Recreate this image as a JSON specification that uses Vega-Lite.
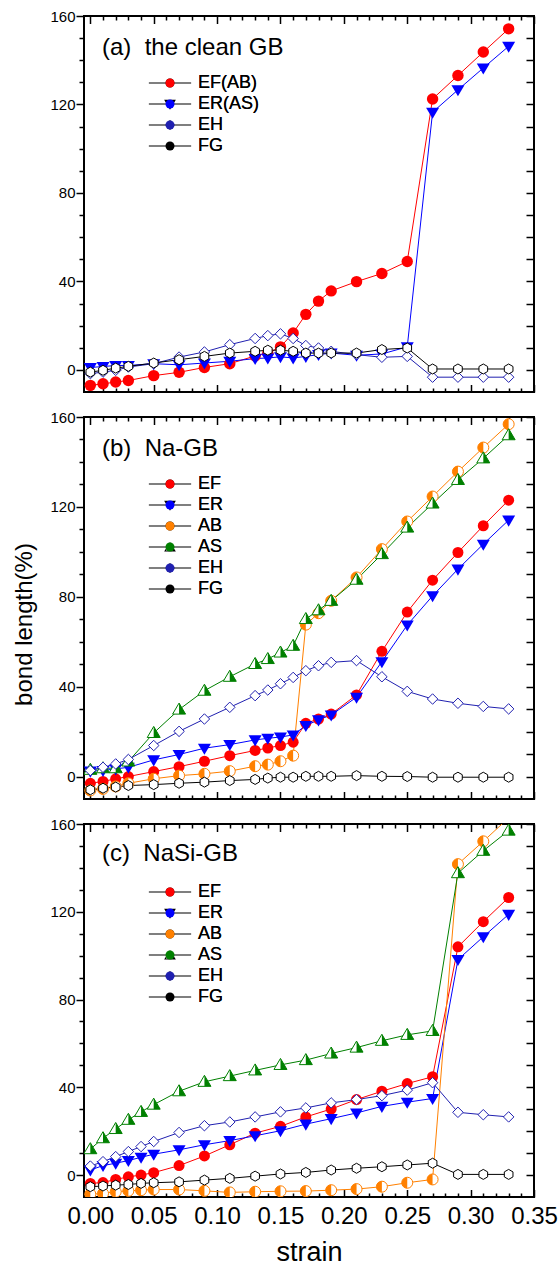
{
"$schema": "https://vega.github.io/schema/vega-lite/v6.json",
"autosize": {"type": "pad"},
"padding": {"left": 11, "top": 8, "right": 0, "bottom": 0},
"background": "white",
"bounds": "flush",
"spacing": 25,
"resolve": {"scale": {"color": "independent", "fill": "independent", "shape": "independent"}, "legend": {"color": "independent", "fill": "independent", "shape": "independent"}},
"config": {
  "view": {"stroke": "black", "strokeWidth": 2},
  "font": "Liberation Sans"
},
"datasets": {
"a": [
{"s":"EF(AB)","x":0,"y":-7.0},{"s":"EF(AB)","x":0.01,"y":-6.3},{"s":"EF(AB)","x":0.02,"y":-5.5},{"s":"EF(AB)","x":0.03,"y":-4.8},{"s":"EF(AB)","x":0.05,"y":-2.6},{"s":"EF(AB)","x":0.07,"y":-1.1},{"s":"EF(AB)","x":0.09,"y":1.1},{"s":"EF(AB)","x":0.11,"y":2.8},{"s":"EF(AB)","x":0.13,"y":6.3},{"s":"EF(AB)","x":0.14,"y":7.5},{"s":"EF(AB)","x":0.15,"y":10.4},{"s":"EF(AB)","x":0.16,"y":16.7},{"s":"EF(AB)","x":0.17,"y":25.1},{"s":"EF(AB)","x":0.18,"y":31.1},{"s":"EF(AB)","x":0.19,"y":35.7},{"s":"EF(AB)","x":0.21,"y":39.9},{"s":"EF(AB)","x":0.23,"y":43.6},{"s":"EF(AB)","x":0.25,"y":49.0},{"s":"EF(AB)","x":0.27,"y":122.5},{"s":"EF(AB)","x":0.29,"y":133.1},{"s":"EF(AB)","x":0.31,"y":143.7},{"s":"EF(AB)","x":0.33,"y":154.2},
{"s":"ER(AS)","x":0,"y":1.1},{"s":"ER(AS)","x":0.01,"y":1.5},{"s":"ER(AS)","x":0.02,"y":2.0},{"s":"ER(AS)","x":0.03,"y":2.0},{"s":"ER(AS)","x":0.05,"y":2.8},{"s":"ER(AS)","x":0.07,"y":2.3},{"s":"ER(AS)","x":0.09,"y":3.1},{"s":"ER(AS)","x":0.11,"y":3.9},{"s":"ER(AS)","x":0.13,"y":5.1},{"s":"ER(AS)","x":0.14,"y":5.4},{"s":"ER(AS)","x":0.15,"y":5.9},{"s":"ER(AS)","x":0.16,"y":5.4},{"s":"ER(AS)","x":0.17,"y":6.1},{"s":"ER(AS)","x":0.18,"y":6.9},{"s":"ER(AS)","x":0.19,"y":7.6},{"s":"ER(AS)","x":0.21,"y":6.6},{"s":"ER(AS)","x":0.23,"y":7.2},{"s":"ER(AS)","x":0.25,"y":10.4},{"s":"ER(AS)","x":0.27,"y":116.5},{"s":"ER(AS)","x":0.29,"y":126.6},{"s":"ER(AS)","x":0.31,"y":136.5},{"s":"ER(AS)","x":0.33,"y":146.3},
{"s":"EH","x":0,"y":-1.7},{"s":"EH","x":0.01,"y":-1.0},{"s":"EH","x":0.02,"y":-0.2},{"s":"EH","x":0.03,"y":1.3},{"s":"EH","x":0.05,"y":2.8},{"s":"EH","x":0.07,"y":5.8},{"s":"EH","x":0.09,"y":8.1},{"s":"EH","x":0.11,"y":11.4},{"s":"EH","x":0.13,"y":14.2},{"s":"EH","x":0.14,"y":15.5},{"s":"EH","x":0.15,"y":16.3},{"s":"EH","x":0.16,"y":14.2},{"s":"EH","x":0.17,"y":11.0},{"s":"EH","x":0.18,"y":9.9},{"s":"EH","x":0.19,"y":8.4},{"s":"EH","x":0.21,"y":6.9},{"s":"EH","x":0.23,"y":5.7},{"s":"EH","x":0.25,"y":6.1},{"s":"EH","x":0.27,"y":-3.3},{"s":"EH","x":0.29,"y":-3.3},{"s":"EH","x":0.31,"y":-3.3},{"s":"EH","x":0.33,"y":-3.3},
{"s":"FG","x":0,"y":-1.0},{"s":"FG","x":0.01,"y":-0.2},{"s":"FG","x":0.02,"y":0.8},{"s":"FG","x":0.03,"y":1.6},{"s":"FG","x":0.05,"y":3.1},{"s":"FG","x":0.07,"y":4.6},{"s":"FG","x":0.09,"y":6.1},{"s":"FG","x":0.11,"y":7.6},{"s":"FG","x":0.13,"y":8.4},{"s":"FG","x":0.14,"y":8.9},{"s":"FG","x":0.15,"y":8.9},{"s":"FG","x":0.16,"y":8.4},{"s":"FG","x":0.17,"y":7.6},{"s":"FG","x":0.18,"y":7.6},{"s":"FG","x":0.19,"y":7.6},{"s":"FG","x":0.21,"y":7.6},{"s":"FG","x":0.23,"y":9.2},{"s":"FG","x":0.25,"y":9.9},{"s":"FG","x":0.27,"y":0.4},{"s":"FG","x":0.29,"y":0.4},{"s":"FG","x":0.31,"y":0.4},{"s":"FG","x":0.33,"y":0.4}
],
"b": [
{"s":"EF","x":0,"y":-3.0},{"s":"EF","x":0.01,"y":-2.2},{"s":"EF","x":0.02,"y":-1.0},{"s":"EF","x":0.03,"y":0.0},{"s":"EF","x":0.05,"y":2.2},{"s":"EF","x":0.07,"y":4.4},{"s":"EF","x":0.09,"y":6.8},{"s":"EF","x":0.11,"y":9.3},{"s":"EF","x":0.13,"y":11.6},{"s":"EF","x":0.14,"y":12.7},{"s":"EF","x":0.15,"y":13.8},{"s":"EF","x":0.16,"y":15.3},{"s":"EF","x":0.17,"y":23.7},{"s":"EF","x":0.18,"y":25.6},{"s":"EF","x":0.19,"y":27.8},{"s":"EF","x":0.21,"y":36.3},{"s":"EF","x":0.23,"y":55.7},{"s":"EF","x":0.25,"y":73.2},{"s":"EF","x":0.27,"y":87.4},{"s":"EF","x":0.29,"y":99.7},{"s":"EF","x":0.31,"y":111.6},{"s":"EF","x":0.33,"y":123.0},
{"s":"ER","x":0,"y":2.4},{"s":"ER","x":0.01,"y":2.7},{"s":"ER","x":0.02,"y":3.4},{"s":"ER","x":0.03,"y":4.1},{"s":"ER","x":0.05,"y":7.4},{"s":"ER","x":0.07,"y":9.8},{"s":"ER","x":0.09,"y":12.6},{"s":"ER","x":0.11,"y":14.2},{"s":"ER","x":0.13,"y":16.3},{"s":"ER","x":0.14,"y":17.0},{"s":"ER","x":0.15,"y":17.6},{"s":"ER","x":0.16,"y":18.5},{"s":"ER","x":0.17,"y":22.7},{"s":"ER","x":0.18,"y":25.2},{"s":"ER","x":0.19,"y":27.4},{"s":"ER","x":0.21,"y":35.3},{"s":"ER","x":0.23,"y":51.1},{"s":"ER","x":0.25,"y":67.4},{"s":"ER","x":0.27,"y":80.4},{"s":"ER","x":0.29,"y":92.3},{"s":"ER","x":0.31,"y":103.4},{"s":"ER","x":0.33,"y":114.1},
{"s":"AB","x":0,"y":-6.2},{"s":"AB","x":0.01,"y":-5.5},{"s":"AB","x":0.02,"y":-4.4},{"s":"AB","x":0.03,"y":-3.0},{"s":"AB","x":0.05,"y":-1.0},{"s":"AB","x":0.07,"y":0.4},{"s":"AB","x":0.09,"y":1.2},{"s":"AB","x":0.11,"y":2.4},{"s":"AB","x":0.13,"y":4.6},{"s":"AB","x":0.14,"y":5.3},{"s":"AB","x":0.15,"y":6.8},{"s":"AB","x":0.16,"y":9.3},{"s":"AB","x":0.17,"y":67.6},{"s":"AB","x":0.18,"y":72.7},{"s":"AB","x":0.19,"y":78.2},{"s":"AB","x":0.21,"y":88.6},{"s":"AB","x":0.23,"y":101.2},{"s":"AB","x":0.25,"y":113.5},{"s":"AB","x":0.27,"y":124.6},{"s":"AB","x":0.29,"y":135.7},{"s":"AB","x":0.31,"y":146.4},{"s":"AB","x":0.33,"y":156.8},
{"s":"AS","x":0,"y":3.0},{"s":"AS","x":0.01,"y":3.7},{"s":"AS","x":0.02,"y":3.7},{"s":"AS","x":0.03,"y":6.7},{"s":"AS","x":0.05,"y":19.4},{"s":"AS","x":0.07,"y":29.8},{"s":"AS","x":0.09,"y":38.2},{"s":"AS","x":0.11,"y":44.4},{"s":"AS","x":0.13,"y":50.1},{"s":"AS","x":0.14,"y":52.3},{"s":"AS","x":0.15,"y":55.2},{"s":"AS","x":0.16,"y":58.2},{"s":"AS","x":0.17,"y":70.1},{"s":"AS","x":0.18,"y":74.0},{"s":"AS","x":0.19,"y":78.2},{"s":"AS","x":0.21,"y":87.6},{"s":"AS","x":0.23,"y":99.0},{"s":"AS","x":0.25,"y":110.8},{"s":"AS","x":0.27,"y":121.5},{"s":"AS","x":0.29,"y":132.0},{"s":"AS","x":0.31,"y":141.6},{"s":"AS","x":0.33,"y":151.9},
{"s":"EH","x":0,"y":2.7},{"s":"EH","x":0.01,"y":4.1},{"s":"EH","x":0.02,"y":5.6},{"s":"EH","x":0.03,"y":7.6},{"s":"EH","x":0.05,"y":13.8},{"s":"EH","x":0.07,"y":20.1},{"s":"EH","x":0.09,"y":25.6},{"s":"EH","x":0.11,"y":30.8},{"s":"EH","x":0.13,"y":36.0},{"s":"EH","x":0.14,"y":38.5},{"s":"EH","x":0.15,"y":41.3},{"s":"EH","x":0.16,"y":44.1},{"s":"EH","x":0.17,"y":47.1},{"s":"EH","x":0.18,"y":49.3},{"s":"EH","x":0.19,"y":50.8},{"s":"EH","x":0.21,"y":51.6},{"s":"EH","x":0.23,"y":44.4},{"s":"EH","x":0.25,"y":37.9},{"s":"EH","x":0.27,"y":34.5},{"s":"EH","x":0.29,"y":32.6},{"s":"EH","x":0.31,"y":31.2},{"s":"EH","x":0.33,"y":30.1},
{"s":"FG","x":0,"y":-5.9},{"s":"FG","x":0.01,"y":-5.2},{"s":"FG","x":0.02,"y":-4.7},{"s":"FG","x":0.03,"y":-4.0},{"s":"FG","x":0.05,"y":-3.6},{"s":"FG","x":0.07,"y":-3.0},{"s":"FG","x":0.09,"y":-2.5},{"s":"FG","x":0.11,"y":-1.8},{"s":"FG","x":0.13,"y":-1.3},{"s":"FG","x":0.14,"y":-0.7},{"s":"FG","x":0.15,"y":-0.3},{"s":"FG","x":0.16,"y":-0.3},{"s":"FG","x":0.17,"y":0.1},{"s":"FG","x":0.18,"y":0.1},{"s":"FG","x":0.19,"y":0.1},{"s":"FG","x":0.21,"y":0.4},{"s":"FG","x":0.23,"y":0.1},{"s":"FG","x":0.25,"y":0.0},{"s":"FG","x":0.27,"y":-0.3},{"s":"FG","x":0.29,"y":-0.3},{"s":"FG","x":0.31,"y":-0.3},{"s":"FG","x":0.33,"y":-0.3}
],
"c": [
{"s":"EF","x":0,"y":-3.8},{"s":"EF","x":0.01,"y":-3.4},{"s":"EF","x":0.02,"y":-2.0},{"s":"EF","x":0.03,"y":-0.8},{"s":"EF","x":0.04,"y":0.0},{"s":"EF","x":0.05,"y":1.1},{"s":"EF","x":0.07,"y":4.3},{"s":"EF","x":0.09,"y":8.7},{"s":"EF","x":0.11,"y":13.8},{"s":"EF","x":0.13,"y":19.1},{"s":"EF","x":0.15,"y":22.2},{"s":"EF","x":0.17,"y":26.5},{"s":"EF","x":0.19,"y":30.1},{"s":"EF","x":0.21,"y":34.4},{"s":"EF","x":0.23,"y":38.2},{"s":"EF","x":0.25,"y":41.7},{"s":"EF","x":0.27,"y":44.8},{"s":"EF","x":0.29,"y":104.0},{"s":"EF","x":0.31,"y":115.5},{"s":"EF","x":0.33,"y":126.5},
{"s":"ER","x":0,"y":2.3},{"s":"ER","x":0.01,"y":4.3},{"s":"ER","x":0.02,"y":5.4},{"s":"ER","x":0.03,"y":6.6},{"s":"ER","x":0.04,"y":8.1},{"s":"ER","x":0.05,"y":9.5},{"s":"ER","x":0.07,"y":11.5},{"s":"ER","x":0.09,"y":13.8},{"s":"ER","x":0.11,"y":15.7},{"s":"ER","x":0.13,"y":17.9},{"s":"ER","x":0.15,"y":20.2},{"s":"ER","x":0.17,"y":23.2},{"s":"ER","x":0.19,"y":25.7},{"s":"ER","x":0.21,"y":28.3},{"s":"ER","x":0.23,"y":31.3},{"s":"ER","x":0.25,"y":33.2},{"s":"ER","x":0.27,"y":34.9},{"s":"ER","x":0.29,"y":98.2},{"s":"ER","x":0.31,"y":108.6},{"s":"ER","x":0.33,"y":118.8},
{"s":"AB","x":0,"y":-8.7},{"s":"AB","x":0.01,"y":-8.4},{"s":"AB","x":0.02,"y":-7.6},{"s":"AB","x":0.03,"y":-7.2},{"s":"AB","x":0.04,"y":-6.9},{"s":"AB","x":0.05,"y":-6.6},{"s":"AB","x":0.07,"y":-6.6},{"s":"AB","x":0.09,"y":-7.2},{"s":"AB","x":0.11,"y":-7.9},{"s":"AB","x":0.13,"y":-7.6},{"s":"AB","x":0.15,"y":-7.4},{"s":"AB","x":0.17,"y":-7.3},{"s":"AB","x":0.19,"y":-6.9},{"s":"AB","x":0.21,"y":-6.4},{"s":"AB","x":0.23,"y":-5.3},{"s":"AB","x":0.25,"y":-3.5},{"s":"AB","x":0.27,"y":-2.0},{"s":"AB","x":0.29,"y":141.7},{"s":"AB","x":0.31,"y":152.1},{"s":"AB","x":0.33,"y":162.8},
{"s":"AS","x":0,"y":11.8},{"s":"AS","x":0.01,"y":16.8},{"s":"AS","x":0.02,"y":21.0},{"s":"AS","x":0.03,"y":25.2},{"s":"AS","x":0.04,"y":28.8},{"s":"AS","x":0.05,"y":32.1},{"s":"AS","x":0.07,"y":38.2},{"s":"AS","x":0.09,"y":42.5},{"s":"AS","x":0.11,"y":45.1},{"s":"AS","x":0.13,"y":47.7},{"s":"AS","x":0.15,"y":50.2},{"s":"AS","x":0.17,"y":52.4},{"s":"AS","x":0.19,"y":55.4},{"s":"AS","x":0.21,"y":58.1},{"s":"AS","x":0.23,"y":61.2},{"s":"AS","x":0.25,"y":63.9},{"s":"AS","x":0.27,"y":65.7},{"s":"AS","x":0.29,"y":137.6},{"s":"AS","x":0.31,"y":147.8},{"s":"AS","x":0.33,"y":157.0},
{"s":"EH","x":0,"y":4.1},{"s":"EH","x":0.01,"y":6.1},{"s":"EH","x":0.02,"y":8.4},{"s":"EH","x":0.03,"y":10.7},{"s":"EH","x":0.04,"y":13.0},{"s":"EH","x":0.05,"y":15.3},{"s":"EH","x":0.07,"y":19.4},{"s":"EH","x":0.09,"y":22.5},{"s":"EH","x":0.11,"y":24.2},{"s":"EH","x":0.13,"y":26.5},{"s":"EH","x":0.15,"y":28.8},{"s":"EH","x":0.17,"y":30.6},{"s":"EH","x":0.19,"y":32.9},{"s":"EH","x":0.21,"y":34.4},{"s":"EH","x":0.23,"y":36.2},{"s":"EH","x":0.25,"y":38.7},{"s":"EH","x":0.27,"y":42.1},{"s":"EH","x":0.29,"y":28.6},{"s":"EH","x":0.31,"y":27.5},{"s":"EH","x":0.33,"y":26.5},
{"s":"FG","x":0,"y":-5.3},{"s":"FG","x":0.01,"y":-5.0},{"s":"FG","x":0.02,"y":-4.6},{"s":"FG","x":0.03,"y":-4.3},{"s":"FG","x":0.04,"y":-3.8},{"s":"FG","x":0.05,"y":-3.5},{"s":"FG","x":0.07,"y":-3.1},{"s":"FG","x":0.09,"y":-2.3},{"s":"FG","x":0.11,"y":-1.5},{"s":"FG","x":0.13,"y":-0.5},{"s":"FG","x":0.15,"y":0.5},{"s":"FG","x":0.17,"y":1.2},{"s":"FG","x":0.19,"y":2.3},{"s":"FG","x":0.21,"y":3.1},{"s":"FG","x":0.23,"y":3.8},{"s":"FG","x":0.25,"y":4.6},{"s":"FG","x":0.27,"y":5.4},{"s":"FG","x":0.29,"y":0.3},{"s":"FG","x":0.31,"y":0.3},{"s":"FG","x":0.33,"y":0.3}
]
},
"vconcat": [
{
  "width": 450, "height": 376,
  "data": {"name": "a"},
  "title": {"text": "(a)\u00a0 the clean GB", "anchor": "start", "frame": "group", "orient": "top", "offset": 0, "dx": 18, "dy": 70, "baseline": "alphabetic", "fontSize": 24, "font": "Liberation Sans", "fontWeight": "normal", "color": "black"},
  "resolve": {"axis": {"x": "independent", "y": "independent"}},
  "layer": [
    {"mark": {"type": "line", "strokeWidth": 1, "clip": true},
     "encoding": {
       "x": {"field": "x", "type": "quantitative", "scale": {"domain": [-0.005, 0.35], "nice": false, "zero": false},
             "axis": {"orient": "bottom", "values": [0,0.01,0.02,0.03,0.04,0.05,0.06,0.07,0.08,0.09,0.1,0.11,0.12,0.13,0.14,0.15,0.16,0.17,0.18,0.19,0.2,0.21,0.22,0.23,0.24,0.25,0.26,0.27,0.28,0.29,0.3,0.31,0.32,0.33,0.34,0.35], "labels": false, "tickSize": {"condition": {"test": "abs(round(datum.value*100)) % 5 === 0", "value": -7.5}, "value": -4}, "tickWidth": 1.5, "tickColor": "black", "domain": false, "grid": false, "title": null}},
       "y": {"field": "y", "type": "quantitative", "scale": {"domain": [-10, 160], "nice": false, "zero": false},
             "axis": {"orient": "left", "values": [0,10,20,30,40,50,60,70,80,90,100,110,120,130,140,150,160], "labelExpr": "datum.value % 40 === 0 ? datum.label : ''", "tickSize": {"condition": {"test": "datum.value % 40 === 0", "value": 8}, "value": 5}, "tickWidth": 1.5, "tickColor": "black", "labelFontSize": 15, "labelFont": "Liberation Sans", "labelColor": "black", "labelPadding": 1, "labelOverlap": false, "labelFlush": false, "domain": false, "grid": false, "title": null}},
       "color": {"field": "s", "type": "nominal", "scale": {"domain": ["EF(AB)", "ER(AS)", "EH", "FG"], "range": ["#ff0000", "#0000ff", "#2020b0", "#000000"]}, "legend": null}
     }},
    {"mark": {"type": "point", "filled": true, "opacity": 0, "strokeWidth": 0},
     "encoding": {
       "x": {"field": "x", "type": "quantitative", "axis": {"orient": "top", "values": [0,0.01,0.02,0.03,0.04,0.05,0.06,0.07,0.08,0.09,0.1,0.11,0.12,0.13,0.14,0.15,0.16,0.17,0.18,0.19,0.2,0.21,0.22,0.23,0.24,0.25,0.26,0.27,0.28,0.29,0.3,0.31,0.32,0.33,0.34,0.35], "labels": false, "tickSize": {"condition": {"test": "abs(round(datum.value*100)) % 5 === 0", "value": -7.5}, "value": -4}, "tickWidth": 1.5, "tickColor": "black", "domain": false, "grid": false, "title": null}},
       "y": {"field": "y", "type": "quantitative", "axis": {"orient": "right", "values": [0,10,20,30,40,50,60,70,80,90,100,110,120,130,140,150,160], "labels": false, "tickSize": -8, "tickWidth": 1.5, "tickColor": "black", "domain": false, "grid": false, "title": null}},
       "shape": {"field": "s", "type": "nominal", "sort": ["EF(AB)", "ER(AS)", "EH", "FG"], "scale": {"range": [
         "M-4.7,-0.12L-0.99,-0.12L-0.99,0.12L-4.7,0.12Z M0.99,-0.12L4.7,-0.12L4.7,0.12L0.99,0.12Z M1,0A1,1 0 1,1 -1,0A1,1 0 1,1 1,0Z",
         "M-4.7,-0.12L-0.7,-0.12L-0.7,0.12L-4.7,0.12Z M0.7,-0.12L4.7,-0.12L4.7,0.12L0.7,0.12Z M-1.3,-0.95L1.3,-0.95L0,1.25Z",
         "M-4.7,-0.12L-1.0,-0.12L-1.0,0.12L-4.7,0.12Z M1.0,-0.12L4.7,-0.12L4.7,0.12L1.0,0.12Z M0,-1.1L1.1,0L0,1.1L-1.1,0L0,-1.1L0,-0.79L-0.79,0L0,0.79L0.79,0L0,-0.79Z",
         "M-4.7,-0.12L-0.78,-0.12L-0.78,0.12L-4.7,0.12Z M0.78,-0.12L4.7,-0.12L4.7,0.12L0.78,0.12Z M0,-0.9L0.78,-0.45L0.78,0.45L0,0.9L-0.78,0.45L-0.78,-0.45L0,-0.9L0,-0.65L-0.56,-0.33L-0.56,0.33L0,0.65L0.56,0.33L0.56,-0.33L0,-0.65Z"]},
         "legend": {"orient": "none", "legendX": 77, "legendY": 58, "title": "", "symbolSize": 81, "symbolStrokeWidth": 0, "symbolStrokeColor": "transparent", "symbolOpacity": 1, "labelFontSize": 18, "labelFont": "Liberation Sans", "labelColor": "black", "labelOffset": 19, "rowPadding": 3, "padding": 0, "labelLimit": 300}},
       "fill": {"field": "s", "type": "nominal", "sort": ["EF(AB)", "ER(AS)", "EH", "FG"], "scale": {"range": ["#ff0000", "#0000ff", "#2020b0", "#000000"]},
         "legend": {"orient": "none", "legendX": 77, "legendY": 58, "title": "", "symbolSize": 81, "symbolStrokeWidth": 0, "symbolStrokeColor": "transparent", "symbolOpacity": 1, "labelFontSize": 18, "labelFont": "Liberation Sans", "labelColor": "black", "labelOffset": 19, "rowPadding": 3, "padding": 0, "labelLimit": 300}}
     }},
    {"transform": [{"filter": "datum.s === 'EF(AB)'"}],
     "mark": {"type": "point", "shape": "circle", "size": 130, "filled": true, "fill": "#ff0000", "strokeWidth": 0, "opacity": 1, "clip": true},
     "encoding": {"x": {"field": "x", "type": "quantitative", "axis": null}, "y": {"field": "y", "type": "quantitative", "axis": null}}},
    {"transform": [{"filter": "datum.s === 'ER(AS)'"}],
     "mark": {"type": "point", "shape": "M-1,-0.7L1,-0.7L0,1Z", "size": 169, "filled": true, "fill": "#0000ff", "strokeWidth": 0, "opacity": 1, "clip": true},
     "encoding": {"x": {"field": "x", "type": "quantitative", "axis": null}, "y": {"field": "y", "type": "quantitative", "axis": null}}},
    {"transform": [{"filter": "datum.s === 'EH'"}],
     "mark": {"type": "point", "shape": "M0,-1L1,0L0,1L-1,0Z", "size": 110, "filled": true, "fill": "white", "stroke": "#2020b0", "strokeWidth": 1, "opacity": 1, "clip": true},
     "encoding": {"x": {"field": "x", "type": "quantitative", "axis": null}, "y": {"field": "y", "type": "quantitative", "axis": null}}},
    {"transform": [{"filter": "datum.s === 'FG'"}],
     "mark": {"type": "point", "shape": "M0,-1L0.866,-0.5L0.866,0.5L0,1L-0.866,0.5L-0.866,-0.5Z", "size": 100, "filled": true, "fill": "white", "stroke": "#000000", "strokeWidth": 1, "opacity": 1, "clip": true},
     "encoding": {"x": {"field": "x", "type": "quantitative", "axis": null}, "y": {"field": "y", "type": "quantitative", "axis": null}}}
  ]
},
{
  "width": 450, "height": 382,
  "data": {"name": "b"},
  "title": {"text": "(b)\u00a0 Na-GB", "anchor": "start", "frame": "group", "orient": "top", "offset": 0, "dx": 18, "dy": 70, "baseline": "alphabetic", "fontSize": 24, "font": "Liberation Sans", "fontWeight": "normal", "color": "black"},
  "resolve": {"axis": {"x": "independent", "y": "independent"}},
  "layer": [
    {"mark": {"type": "line", "strokeWidth": 1, "clip": true},
     "encoding": {
       "x": {"field": "x", "type": "quantitative", "scale": {"domain": [-0.005, 0.35], "nice": false, "zero": false},
             "axis": {"orient": "bottom", "values": [0,0.01,0.02,0.03,0.04,0.05,0.06,0.07,0.08,0.09,0.1,0.11,0.12,0.13,0.14,0.15,0.16,0.17,0.18,0.19,0.2,0.21,0.22,0.23,0.24,0.25,0.26,0.27,0.28,0.29,0.3,0.31,0.32,0.33,0.34,0.35], "labels": false, "tickSize": {"condition": {"test": "abs(round(datum.value*100)) % 5 === 0", "value": -7.5}, "value": -4}, "tickWidth": 1.5, "tickColor": "black", "domain": false, "grid": false, "title": null}},
       "y": {"field": "y", "type": "quantitative", "scale": {"domain": [-10, 160], "nice": false, "zero": false},
             "axis": {"orient": "left", "values": [0,10,20,30,40,50,60,70,80,90,100,110,120,130,140,150,160], "labelExpr": "datum.value % 40 === 0 ? datum.label : ''", "tickSize": {"condition": {"test": "datum.value % 40 === 0", "value": 8}, "value": 5}, "tickWidth": 1.5, "tickColor": "black", "labelFontSize": 15, "labelFont": "Liberation Sans", "labelColor": "black", "labelPadding": 1, "labelOverlap": false, "labelFlush": false, "domain": false, "grid": false,
                      "title": "bond length(%)", "titleFontSize": 24, "titleFont": "Liberation Sans", "titleFontWeight": "normal", "titleColor": "black", "titleX": -60, "titleY": 207, "titleAngle": -90, "titleAlign": "center", "titleBaseline": "middle"}},
       "color": {"field": "s", "type": "nominal", "scale": {"domain": ["EF", "ER", "AB", "AS", "EH", "FG"], "range": ["#ff0000", "#0000ff", "#ff8000", "#008000", "#2020b0", "#000000"]}, "legend": null}
     }},
    {"mark": {"type": "point", "filled": true, "opacity": 0, "strokeWidth": 0},
     "encoding": {
       "x": {"field": "x", "type": "quantitative", "axis": {"orient": "top", "values": [0,0.01,0.02,0.03,0.04,0.05,0.06,0.07,0.08,0.09,0.1,0.11,0.12,0.13,0.14,0.15,0.16,0.17,0.18,0.19,0.2,0.21,0.22,0.23,0.24,0.25,0.26,0.27,0.28,0.29,0.3,0.31,0.32,0.33,0.34,0.35], "labels": false, "tickSize": {"condition": {"test": "abs(round(datum.value*100)) % 5 === 0", "value": -7.5}, "value": -4}, "tickWidth": 1.5, "tickColor": "black", "domain": false, "grid": false, "title": null}},
       "y": {"field": "y", "type": "quantitative", "axis": {"orient": "right", "values": [0,10,20,30,40,50,60,70,80,90,100,110,120,130,140,150,160], "labels": false, "tickSize": -8, "tickWidth": 1.5, "tickColor": "black", "domain": false, "grid": false, "title": null}},
       "shape": {"field": "s", "type": "nominal", "sort": ["EF", "ER", "AB", "AS", "EH", "FG"], "scale": {"range": [
         "M-4.7,-0.12L-0.99,-0.12L-0.99,0.12L-4.7,0.12Z M0.99,-0.12L4.7,-0.12L4.7,0.12L0.99,0.12Z M1,0A1,1 0 1,1 -1,0A1,1 0 1,1 1,0Z",
         "M-4.7,-0.12L-0.7,-0.12L-0.7,0.12L-4.7,0.12Z M0.7,-0.12L4.7,-0.12L4.7,0.12L0.7,0.12Z M-1.3,-0.95L1.3,-0.95L0,1.25Z",
         "M-4.7,-0.12L-0.99,-0.12L-0.99,0.12L-4.7,0.12Z M0.99,-0.12L4.7,-0.12L4.7,0.12L0.99,0.12Z M1,0A1,1 0 1,1 -1,0A1,1 0 1,1 1,0L0.78,0A0.78,0.78 0 1,0 -0.78,0A0.78,0.78 0 1,0 0.78,0Z M0,0.78A0.78,0.78 0 0,1 0,-0.78Z",
         "M-4.7,-0.12L-0.68,-0.12L-0.68,0.12L-4.7,0.12Z M0.68,-0.12L4.7,-0.12L4.7,0.12L0.68,0.12Z M0,-1.1L1.3,1L-1.3,1L0,-1.1L0,-0.68L-0.9,0.78L0.9,0.78L0,-0.68Z M0,-0.68L0.9,0.78L0,0.78Z",
         "M-4.7,-0.12L-1.0,-0.12L-1.0,0.12L-4.7,0.12Z M1.0,-0.12L4.7,-0.12L4.7,0.12L1.0,0.12Z M0,-1.1L1.1,0L0,1.1L-1.1,0L0,-1.1L0,-0.79L-0.79,0L0,0.79L0.79,0L0,-0.79Z",
         "M-4.7,-0.12L-0.78,-0.12L-0.78,0.12L-4.7,0.12Z M0.78,-0.12L4.7,-0.12L4.7,0.12L0.78,0.12Z M0,-0.9L0.78,-0.45L0.78,0.45L0,0.9L-0.78,0.45L-0.78,-0.45L0,-0.9L0,-0.65L-0.56,-0.33L-0.56,0.33L0,0.65L0.56,0.33L0.56,-0.33L0,-0.65Z"]},
         "legend": {"orient": "none", "legendX": 77, "legendY": 58, "title": "", "symbolSize": 81, "symbolStrokeWidth": 0, "symbolStrokeColor": "transparent", "symbolOpacity": 1, "labelFontSize": 18, "labelFont": "Liberation Sans", "labelColor": "black", "labelOffset": 19, "rowPadding": 3, "padding": 0, "labelLimit": 300}},
       "fill": {"field": "s", "type": "nominal", "sort": ["EF", "ER", "AB", "AS", "EH", "FG"], "scale": {"range": ["#ff0000", "#0000ff", "#ff8000", "#008000", "#2020b0", "#000000"]},
         "legend": {"orient": "none", "legendX": 77, "legendY": 58, "title": "", "symbolSize": 81, "symbolStrokeWidth": 0, "symbolStrokeColor": "transparent", "symbolOpacity": 1, "labelFontSize": 18, "labelFont": "Liberation Sans", "labelColor": "black", "labelOffset": 19, "rowPadding": 3, "padding": 0, "labelLimit": 300}}
     }},
    {"transform": [{"filter": "datum.s === 'EF'"}],
     "mark": {"type": "point", "shape": "circle", "size": 121, "filled": true, "fill": "#ff0000", "strokeWidth": 0, "opacity": 1, "clip": true},
     "encoding": {"x": {"field": "x", "type": "quantitative", "axis": null}, "y": {"field": "y", "type": "quantitative", "axis": null}}},
    {"transform": [{"filter": "datum.s === 'ER'"}],
     "mark": {"type": "point", "shape": "M-1,-0.7L1,-0.7L0,1Z", "size": 169, "filled": true, "fill": "#0000ff", "strokeWidth": 0, "opacity": 1, "clip": true},
     "encoding": {"x": {"field": "x", "type": "quantitative", "axis": null}, "y": {"field": "y", "type": "quantitative", "axis": null}}},
    {"transform": [{"filter": "datum.s === 'AB'"}],
     "mark": {"type": "point", "shape": "circle", "size": 121, "filled": true, "fill": "white", "stroke": "#ff8000", "strokeWidth": 1, "opacity": 1, "clip": true},
     "encoding": {"x": {"field": "x", "type": "quantitative", "axis": null}, "y": {"field": "y", "type": "quantitative", "axis": null}}},
    {"transform": [{"filter": "datum.s === 'AB'"}],
     "mark": {"type": "point", "shape": "M0,1A1,1 0 0,1 0,-1Z", "size": 121, "filled": true, "fill": "#ff8000", "strokeWidth": 0, "opacity": 1, "clip": true},
     "encoding": {"x": {"field": "x", "type": "quantitative", "axis": null}, "y": {"field": "y", "type": "quantitative", "axis": null}}},
    {"transform": [{"filter": "datum.s === 'AS'"}],
     "mark": {"type": "point", "shape": "M0,-1L1,0.7L-1,0.7Z", "size": 169, "filled": true, "fill": "white", "stroke": "#008000", "strokeWidth": 1, "opacity": 1, "clip": true},
     "encoding": {"x": {"field": "x", "type": "quantitative", "axis": null}, "y": {"field": "y", "type": "quantitative", "axis": null}}},
    {"transform": [{"filter": "datum.s === 'AS'"}],
     "mark": {"type": "point", "shape": "M0,-1L1,0.7L0,0.7Z", "size": 169, "filled": true, "fill": "#008000", "strokeWidth": 0, "opacity": 1, "clip": true},
     "encoding": {"x": {"field": "x", "type": "quantitative", "axis": null}, "y": {"field": "y", "type": "quantitative", "axis": null}}},
    {"transform": [{"filter": "datum.s === 'EH'"}],
     "mark": {"type": "point", "shape": "M0,-1L1,0L0,1L-1,0Z", "size": 110, "filled": true, "fill": "white", "stroke": "#2020b0", "strokeWidth": 1, "opacity": 1, "clip": true},
     "encoding": {"x": {"field": "x", "type": "quantitative", "axis": null}, "y": {"field": "y", "type": "quantitative", "axis": null}}},
    {"transform": [{"filter": "datum.s === 'FG'"}],
     "mark": {"type": "point", "shape": "M0,-1L0.866,-0.5L0.866,0.5L0,1L-0.866,0.5L-0.866,-0.5Z", "size": 100, "filled": true, "fill": "white", "stroke": "#000000", "strokeWidth": 1, "opacity": 1, "clip": true},
     "encoding": {"x": {"field": "x", "type": "quantitative", "axis": null}, "y": {"field": "y", "type": "quantitative", "axis": null}}}
  ]
},
{
  "width": 450, "height": 373,
  "data": {"name": "c"},
  "title": {"text": "(c)\u00a0 NaSi-GB", "anchor": "start", "frame": "group", "orient": "top", "offset": 0, "dx": 18, "dy": 70, "baseline": "alphabetic", "fontSize": 24, "font": "Liberation Sans", "fontWeight": "normal", "color": "black"},
  "resolve": {"axis": {"x": "independent", "y": "independent"}},
  "layer": [
    {"mark": {"type": "line", "strokeWidth": 1, "clip": true},
     "encoding": {
       "x": {"field": "x", "type": "quantitative", "scale": {"domain": [-0.005, 0.35], "nice": false, "zero": false},
             "axis": {"orient": "bottom", "values": [0,0.01,0.02,0.03,0.04,0.05,0.06,0.07,0.08,0.09,0.1,0.11,0.12,0.13,0.14,0.15,0.16,0.17,0.18,0.19,0.2,0.21,0.22,0.23,0.24,0.25,0.26,0.27,0.28,0.29,0.3,0.31,0.32,0.33,0.34,0.35], "labelExpr": "abs(round(datum.value*100)) % 5 === 0 ? format(datum.value, '.2f') : ''", "labelFontSize": 24, "labelFont": "Liberation Sans", "labelColor": "black", "labelPadding": 15, "labelOverlap": false, "labelFlush": false, "tickSize": {"condition": {"test": "abs(round(datum.value*100)) % 5 === 0", "value": -7.5}, "value": -4}, "tickWidth": 1.5, "tickColor": "black", "domain": false, "grid": false,
                      "title": "strain", "titleFontSize": 27, "titleFont": "Liberation Sans", "titleFontWeight": "normal", "titleColor": "black", "titleX": 225, "titleY": 63.5, "titleAlign": "center", "titleBaseline": "alphabetic"}},
       "y": {"field": "y", "type": "quantitative", "scale": {"domain": [-10, 160], "nice": false, "zero": false},
             "axis": {"orient": "left", "values": [0,10,20,30,40,50,60,70,80,90,100,110,120,130,140,150,160], "labelExpr": "datum.value % 40 === 0 ? datum.label : ''", "tickSize": {"condition": {"test": "datum.value % 40 === 0", "value": 8}, "value": 5}, "tickWidth": 1.5, "tickColor": "black", "labelFontSize": 15, "labelFont": "Liberation Sans", "labelColor": "black", "labelPadding": 1, "labelOverlap": false, "labelFlush": false, "domain": false, "grid": false, "title": null}},
       "color": {"field": "s", "type": "nominal", "scale": {"domain": ["EF", "ER", "AB", "AS", "EH", "FG"], "range": ["#ff0000", "#0000ff", "#ff8000", "#008000", "#2020b0", "#000000"]}, "legend": null}
     }},
    {"mark": {"type": "point", "filled": true, "opacity": 0, "strokeWidth": 0},
     "encoding": {
       "x": {"field": "x", "type": "quantitative", "axis": {"orient": "top", "values": [0,0.01,0.02,0.03,0.04,0.05,0.06,0.07,0.08,0.09,0.1,0.11,0.12,0.13,0.14,0.15,0.16,0.17,0.18,0.19,0.2,0.21,0.22,0.23,0.24,0.25,0.26,0.27,0.28,0.29,0.3,0.31,0.32,0.33,0.34,0.35], "labels": false, "tickSize": {"condition": {"test": "abs(round(datum.value*100)) % 5 === 0", "value": -7.5}, "value": -4}, "tickWidth": 1.5, "tickColor": "black", "domain": false, "grid": false, "title": null}},
       "y": {"field": "y", "type": "quantitative", "axis": {"orient": "right", "values": [0,10,20,30,40,50,60,70,80,90,100,110,120,130,140,150,160], "labels": false, "tickSize": -8, "tickWidth": 1.5, "tickColor": "black", "domain": false, "grid": false, "title": null}},
       "shape": {"field": "s", "type": "nominal", "sort": ["EF", "ER", "AB", "AS", "EH", "FG"], "scale": {"range": [
         "M-4.7,-0.12L-0.99,-0.12L-0.99,0.12L-4.7,0.12Z M0.99,-0.12L4.7,-0.12L4.7,0.12L0.99,0.12Z M1,0A1,1 0 1,1 -1,0A1,1 0 1,1 1,0Z",
         "M-4.7,-0.12L-0.7,-0.12L-0.7,0.12L-4.7,0.12Z M0.7,-0.12L4.7,-0.12L4.7,0.12L0.7,0.12Z M-1.3,-0.95L1.3,-0.95L0,1.25Z",
         "M-4.7,-0.12L-0.99,-0.12L-0.99,0.12L-4.7,0.12Z M0.99,-0.12L4.7,-0.12L4.7,0.12L0.99,0.12Z M1,0A1,1 0 1,1 -1,0A1,1 0 1,1 1,0L0.78,0A0.78,0.78 0 1,0 -0.78,0A0.78,0.78 0 1,0 0.78,0Z M0,0.78A0.78,0.78 0 0,1 0,-0.78Z",
         "M-4.7,-0.12L-0.68,-0.12L-0.68,0.12L-4.7,0.12Z M0.68,-0.12L4.7,-0.12L4.7,0.12L0.68,0.12Z M0,-1.1L1.3,1L-1.3,1L0,-1.1L0,-0.68L-0.9,0.78L0.9,0.78L0,-0.68Z M0,-0.68L0.9,0.78L0,0.78Z",
         "M-4.7,-0.12L-1.0,-0.12L-1.0,0.12L-4.7,0.12Z M1.0,-0.12L4.7,-0.12L4.7,0.12L1.0,0.12Z M0,-1.1L1.1,0L0,1.1L-1.1,0L0,-1.1L0,-0.79L-0.79,0L0,0.79L0.79,0L0,-0.79Z",
         "M-4.7,-0.12L-0.78,-0.12L-0.78,0.12L-4.7,0.12Z M0.78,-0.12L4.7,-0.12L4.7,0.12L0.78,0.12Z M0,-0.9L0.78,-0.45L0.78,0.45L0,0.9L-0.78,0.45L-0.78,-0.45L0,-0.9L0,-0.65L-0.56,-0.33L-0.56,0.33L0,0.65L0.56,0.33L0.56,-0.33L0,-0.65Z"]},
         "legend": {"orient": "none", "legendX": 77, "legendY": 59, "title": "", "symbolSize": 81, "symbolStrokeWidth": 0, "symbolStrokeColor": "transparent", "symbolOpacity": 1, "labelFontSize": 18, "labelFont": "Liberation Sans", "labelColor": "black", "labelOffset": 19, "rowPadding": 3, "padding": 0, "labelLimit": 300}},
       "fill": {"field": "s", "type": "nominal", "sort": ["EF", "ER", "AB", "AS", "EH", "FG"], "scale": {"range": ["#ff0000", "#0000ff", "#ff8000", "#008000", "#2020b0", "#000000"]},
         "legend": {"orient": "none", "legendX": 77, "legendY": 59, "title": "", "symbolSize": 81, "symbolStrokeWidth": 0, "symbolStrokeColor": "transparent", "symbolOpacity": 1, "labelFontSize": 18, "labelFont": "Liberation Sans", "labelColor": "black", "labelOffset": 19, "rowPadding": 3, "padding": 0, "labelLimit": 300}}
     }},
    {"transform": [{"filter": "datum.s === 'EF'"}],
     "mark": {"type": "point", "shape": "circle", "size": 121, "filled": true, "fill": "#ff0000", "strokeWidth": 0, "opacity": 1, "clip": true},
     "encoding": {"x": {"field": "x", "type": "quantitative", "axis": null}, "y": {"field": "y", "type": "quantitative", "axis": null}}},
    {"transform": [{"filter": "datum.s === 'ER'"}],
     "mark": {"type": "point", "shape": "M-1,-0.7L1,-0.7L0,1Z", "size": 169, "filled": true, "fill": "#0000ff", "strokeWidth": 0, "opacity": 1, "clip": true},
     "encoding": {"x": {"field": "x", "type": "quantitative", "axis": null}, "y": {"field": "y", "type": "quantitative", "axis": null}}},
    {"transform": [{"filter": "datum.s === 'AB'"}],
     "mark": {"type": "point", "shape": "circle", "size": 121, "filled": true, "fill": "white", "stroke": "#ff8000", "strokeWidth": 1, "opacity": 1, "clip": true},
     "encoding": {"x": {"field": "x", "type": "quantitative", "axis": null}, "y": {"field": "y", "type": "quantitative", "axis": null}}},
    {"transform": [{"filter": "datum.s === 'AB'"}],
     "mark": {"type": "point", "shape": "M0,1A1,1 0 0,1 0,-1Z", "size": 121, "filled": true, "fill": "#ff8000", "strokeWidth": 0, "opacity": 1, "clip": true},
     "encoding": {"x": {"field": "x", "type": "quantitative", "axis": null}, "y": {"field": "y", "type": "quantitative", "axis": null}}},
    {"transform": [{"filter": "datum.s === 'AS'"}],
     "mark": {"type": "point", "shape": "M0,-1L1,0.7L-1,0.7Z", "size": 169, "filled": true, "fill": "white", "stroke": "#008000", "strokeWidth": 1, "opacity": 1, "clip": true},
     "encoding": {"x": {"field": "x", "type": "quantitative", "axis": null}, "y": {"field": "y", "type": "quantitative", "axis": null}}},
    {"transform": [{"filter": "datum.s === 'AS'"}],
     "mark": {"type": "point", "shape": "M0,-1L1,0.7L0,0.7Z", "size": 169, "filled": true, "fill": "#008000", "strokeWidth": 0, "opacity": 1, "clip": true},
     "encoding": {"x": {"field": "x", "type": "quantitative", "axis": null}, "y": {"field": "y", "type": "quantitative", "axis": null}}},
    {"transform": [{"filter": "datum.s === 'EH'"}],
     "mark": {"type": "point", "shape": "M0,-1L1,0L0,1L-1,0Z", "size": 110, "filled": true, "fill": "white", "stroke": "#2020b0", "strokeWidth": 1, "opacity": 1, "clip": true},
     "encoding": {"x": {"field": "x", "type": "quantitative", "axis": null}, "y": {"field": "y", "type": "quantitative", "axis": null}}},
    {"transform": [{"filter": "datum.s === 'FG'"}],
     "mark": {"type": "point", "shape": "M0,-1L0.866,-0.5L0.866,0.5L0,1L-0.866,0.5L-0.866,-0.5Z", "size": 100, "filled": true, "fill": "white", "stroke": "#000000", "strokeWidth": 1, "opacity": 1, "clip": true},
     "encoding": {"x": {"field": "x", "type": "quantitative", "axis": null}, "y": {"field": "y", "type": "quantitative", "axis": null}}}
  ]
}
]
}
